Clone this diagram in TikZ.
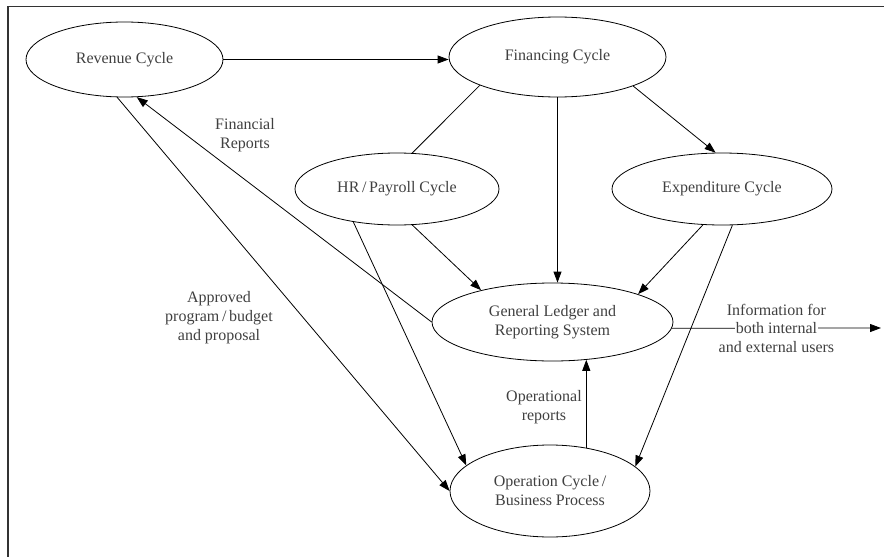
\documentclass[tikz,border=0pt]{standalone}
\usepackage{fontspec}
\setmainfont{Liberation Serif}
\usetikzlibrary{arrows.meta, positioning, shapes.geometric}

\begin{document}
\begin{tikzpicture}[x=1pt, y=-1pt, >={Triangle[length=11pt, width=8pt]}, line width=0.8pt,
    every node/.style={font=\fontsize{16}{19}\selectfont},
    proc/.style={draw, ellipse, inner sep=0pt, align=center, text=black!75},
    note/.style={align=center, text=black!75, inner sep=1pt}]
  \useasboundingbox (0,0) rectangle (884,557);
  \draw[black!80, line width=1.3pt] (8,557) |- (884,6.5);

  \node (rev) [proc, minimum width=197pt, minimum height=75pt] at (124.5,59.5) {Revenue Cycle};
  \node (fin) [proc, minimum width=217pt, minimum height=80pt] at (557.5,57) {Financing Cycle};
  \node (hr)  [proc, minimum width=204pt, minimum height=72pt] at (397,189) {HR\,/\,Payroll Cycle};
  \node (exp) [proc, minimum width=220pt, minimum height=72pt] at (722,189) {Expenditure Cycle};
  \node (gl)  [proc, minimum width=241pt, minimum height=78pt] at (552.5,322) {General Ledger and\\Reporting System};
  \node (op)  [proc, minimum width=200pt, minimum height=92pt] at (550,491) {Operation Cycle\,/\\Business Process};
  \coordinate (out) at (881,328);

  \node (finrep) [note] at (245,135) {Financial\\Reports};
  \node (appr) [note] at (219,318) {Approved\\program\,/\,budget\\and proposal};
  \node (oprep) [note] at (544,407) {Operational\\reports};

  \draw[->] (rev.east) -- (rev.east -| fin.west);
  \draw (fin.-160) -- (hr.67);
  \draw[->] (fin.south) -- (fin.south |- gl.north);
  \draw[->] (fin.-21) -- (exp.100);
  \draw[->] (hr.-67) -- (gl.156);
  \draw[->] (hr.-143) -- (op.163);
  \draw[->] (exp.-118) -- (gl.18);
  \draw[->] (exp.-74) -- (op.16);
  \draw[->] (rev.-101) -- (op.west);
  \draw[->] (gl.west) -- (rev.-72);
  \draw[->] (op.50) -- (op.50 |- gl.-48);
  \draw[->] (gl.-3) -- node (both) [note, fill=white] {both internal} (out);
  \node (infotop) [note] at ([yshift=18.5pt]both.center) {Information for};
  \node (infobot) [note] at ([yshift=-19pt]both.center) {and external users};
\end{tikzpicture}
\end{document}
